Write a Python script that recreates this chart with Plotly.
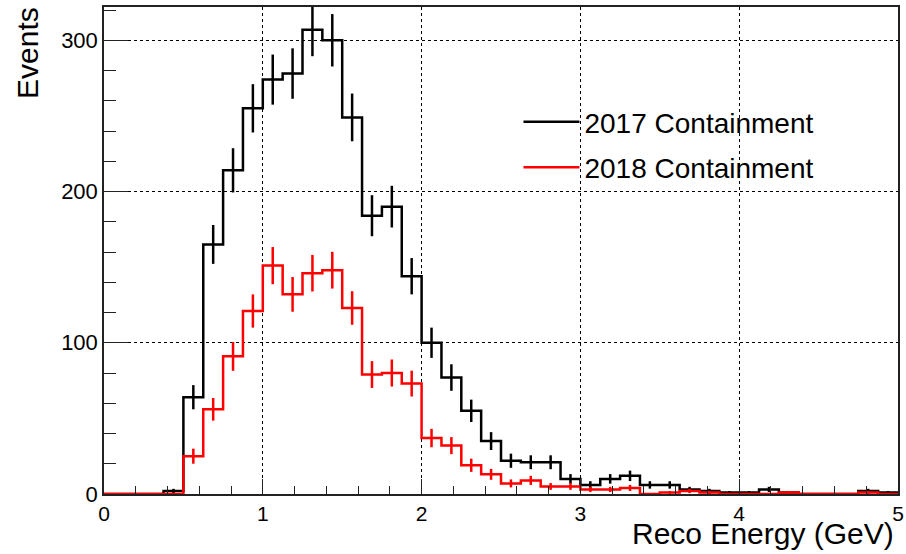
import numpy as np
import plotly.graph_objects as go

# 40 bins of 0.125 GeV from 0 to 5 GeV
bin_edges = np.linspace(0, 5, 41)
bin_centers = 0.5 * (bin_edges[:-1] + bin_edges[1:])

events_2017 = [0, 0, 0, 2, 64, 165, 214, 255, 274, 278,
               307, 300, 249, 184, 190, 144, 100, 77, 55, 35,
               22, 21, 21, 10, 6, 10, 12, 6, 6, 3,
               2, 1, 1, 3, 1, 0, 0, 0, 2, 1]
events_2018 = [0, 0, 0, 0, 25, 56, 91, 121, 151, 132,
               146, 148, 123, 79, 80, 73, 37, 32, 19, 13,
               7, 9, 5, 5, 3, 3, 4, 0, 1, 2,
               1, 0, 0, 0, 1, 0, 0, 0, 1, 0]

series = [
    ("2017 Containment", events_2017, "#000000"),
    ("2018 Containment", events_2018, "#ff0000"),
]

font_family = "Liberation Sans, Arial, sans-serif"

fig = go.Figure()

for name, vals, color in series:
    vals = np.array(vals, dtype=float)
    # step outline of the histogram
    fig.add_trace(
        go.Scatter(
            x=bin_edges,
            y=np.append(vals, vals[-1]),
            mode="lines",
            line=dict(color=color, width=2.5, shape="hv"),
            name=name,
            legendgroup=name,
            hoverinfo="skip",
        )
    )
    # poisson error bars at bin centres
    fig.add_trace(
        go.Scatter(
            x=bin_centers,
            y=vals,
            mode="markers",
            marker=dict(size=1, color=color),
            error_y=dict(type="data", array=np.sqrt(vals), width=0, thickness=2.5, color=color),
            showlegend=False,
            legendgroup=name,
        )
    )

axis_style = dict(
    showline=True,
    mirror=True,
    linecolor="#222222",
    linewidth=1.5,
    showgrid=True,
    gridcolor="#000000",
    griddash="dot",
    gridwidth=1,
    zeroline=False,
    ticks="inside",
    tickwidth=1,
    tickcolor="#222222",
    automargin=False,
)

fig.update_xaxes(
    range=[0, 5],
    dtick=1,
    ticklen=15,
    tickfont=dict(size=21, color="black", family=font_family),
    minor=dict(dtick=0.2, ticks="inside", ticklen=8, tickcolor="#222222", showgrid=False),
    **axis_style,
)
fig.update_yaxes(
    range=[0, 322],
    dtick=100,
    ticklen=24,
    ticklabelstandoff=0,
    tickfont=dict(size=22, color="black", family=font_family),
    minor=dict(dtick=20, ticks="inside", ticklen=12, tickcolor="#222222", showgrid=False),
    **axis_style,
)

fig.add_annotation(
    text="Reco Energy (GeV)",
    xref="paper", yref="paper", x=1, y=0,
    xanchor="right", yanchor="top",
    xshift=-2, yshift=-21,
    showarrow=False,
    font=dict(size=30, color="black", family=font_family),
)
fig.add_annotation(
    text="Events",
    xref="paper", yref="paper", x=0, y=1,
    xanchor="center", yanchor="top",
    xshift=-77, yshift=2,
    textangle=-90,
    showarrow=False,
    font=dict(size=30, color="black", family=font_family),
)

fig.update_layout(
    width=906,
    height=554,
    margin=dict(l=104, r=8, t=7, b=60),
    paper_bgcolor="white",
    plot_bgcolor="white",
    font=dict(family=font_family, color="black"),
    legend=dict(
        x=0.522,
        y=0.815,
        xanchor="left",
        yanchor="top",
        bgcolor="rgba(0,0,0,0)",
        font=dict(size=28, color="black", family=font_family),
        tracegroupgap=6,
        itemwidth=56,
    ),
)

# drop the default page margin so the figure sits at the window's corner
fig.write_html(
    "out.html",
    config={"displayModeBar": False},
    post_script="document.body.style.margin = '0px';",
)
